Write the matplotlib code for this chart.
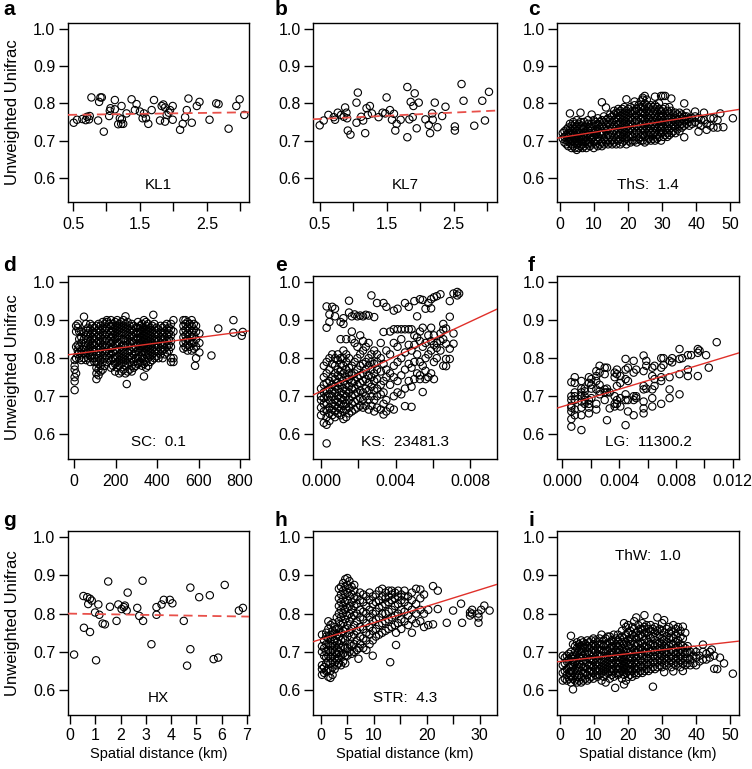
import numpy as np
import matplotlib
matplotlib.use("Agg")
import matplotlib.pyplot as plt

plt.rcParams['font.family'] = ['Liberation Sans', 'DejaVu Sans']

# ---- data ----
# a: KL1
kl1_x = [0.51, 0.56, 0.64, 0.69, 0.71, 0.74, 0.75, 0.775, 0.875, 0.89,
         0.91, 0.93, 0.96, 1.04, 1.05, 1.06, 1.125, 1.125, 1.175, 1.2,
         1.22, 1.225, 1.23, 1.25, 1.3, 1.375, 1.425, 1.45, 1.5, 1.54,
         1.56, 1.59, 1.625, 1.675, 1.71, 1.8, 1.825, 1.85, 1.875, 1.875,
         1.9, 1.93, 1.95, 1.99, 1.99, 2.1, 2.14, 2.175, 2.2, 2.225,
         2.275, 2.35, 2.39, 2.54, 2.64, 2.675, 2.825, 2.94, 2.99, 3.06]
kl1_y = [0.748, 0.756, 0.758, 0.755, 0.764, 0.757, 0.766, 0.816, 0.754, 0.804,
         0.816, 0.816, 0.724, 0.766, 0.78, 0.787, 0.809, 0.784, 0.744, 0.76,
         0.745, 0.793, 0.757, 0.745, 0.773, 0.811, 0.782, 0.798, 0.778, 0.76,
         0.773, 0.76, 0.745, 0.782, 0.809, 0.754, 0.793, 0.797, 0.789, 0.751,
         0.769, 0.775, 0.782, 0.793, 0.756, 0.729, 0.745, 0.763, 0.782, 0.813,
         0.748, 0.793, 0.804, 0.756, 0.8, 0.798, 0.732, 0.793, 0.811, 0.769]

# b: KL7
kl7_x = [0.5, 0.56, 0.63, 0.71, 0.73, 0.77, 0.82, 0.86, 0.88, 0.9,
         0.91, 0.92, 0.96, 1.05, 1.07, 1.05, 1.12, 1.15, 1.18, 1.2,
         1.22, 1.25, 1.28, 1.38, 1.44, 1.48, 1.5, 1.55, 1.58, 1.61,
         1.63, 1.65, 1.71, 1.81, 1.81, 1.84, 1.86, 1.89, 1.9, 1.92,
         1.95, 1.98, 2.08, 2.13, 2.15, 2.18, 2.19, 2.22, 2.26, 2.33,
         2.38, 2.52, 2.52, 2.62, 2.65, 2.81, 2.93, 2.97, 3.03]
kl7_y = [0.741, 0.754, 0.769, 0.763, 0.756, 0.775, 0.769, 0.764, 0.789, 0.775,
         0.76, 0.727, 0.716, 0.802, 0.829, 0.748, 0.764, 0.754, 0.72, 0.787,
         0.769, 0.793, 0.773, 0.763, 0.775, 0.773, 0.816, 0.782, 0.756, 0.772,
         0.727, 0.745, 0.756, 0.709, 0.844, 0.757, 0.804, 0.763, 0.793, 0.827,
         0.733, 0.802, 0.757, 0.742, 0.72, 0.773, 0.756, 0.802, 0.736, 0.766,
         0.791, 0.738, 0.727, 0.852, 0.807, 0.74, 0.807, 0.754, 0.831]

# c: ThS  (distance, [dissimilarities])
ths_cols = [
    (0.8, [0.705, 0.72]),
    (1.3, [0.695, 0.71, 0.725]),
    (1.9, [0.69, 0.70, 0.715, 0.73]),
    (2.4, [0.685, 0.70, 0.71, 0.72, 0.735]),
    (2.9, [0.695, 0.705, 0.72, 0.73, 0.745, 0.773]),
    (3.4, [0.68, 0.69, 0.70, 0.715, 0.725, 0.74]),
    (3.9, [0.685, 0.70, 0.71, 0.72, 0.735, 0.75]),
    (4.4, [0.68, 0.695, 0.705, 0.715, 0.73, 0.745]),
    (4.9, [0.675, 0.69, 0.70, 0.71, 0.725, 0.74, 0.755]),
    (5.5, [0.68, 0.695, 0.705, 0.72, 0.73, 0.745]),
    (6.0, [0.685, 0.70, 0.71, 0.72, 0.735, 0.75, 0.775]),
    (6.6, [0.68, 0.69, 0.705, 0.715, 0.73, 0.74]),
    (7.1, [0.685, 0.695, 0.71, 0.72, 0.735, 0.75]),
    (7.7, [0.68, 0.70, 0.71, 0.725, 0.74]),
    (8.2, [0.69, 0.70, 0.715, 0.73, 0.745, 0.755]),
    (8.8, [0.685, 0.695, 0.71, 0.72, 0.735]),
    (9.3, [0.69, 0.705, 0.715, 0.73, 0.745, 0.77]),
    (9.9, [0.68, 0.695, 0.71, 0.72, 0.74, 0.755]),
    (10.5, [0.69, 0.70, 0.715, 0.725, 0.74, 0.75]),
    (11.1, [0.685, 0.70, 0.71, 0.73, 0.745, 0.76]),
    (11.7, [0.69, 0.705, 0.72, 0.735, 0.75]),
    (12.3, [0.685, 0.695, 0.715, 0.725, 0.74, 0.755, 0.803]),
    (12.9, [0.69, 0.705, 0.72, 0.735, 0.75, 0.765]),
    (13.5, [0.695, 0.71, 0.725, 0.74, 0.755, 0.789]),
    (14.1, [0.69, 0.70, 0.715, 0.73, 0.745, 0.76]),
    (14.7, [0.695, 0.71, 0.725, 0.74, 0.755, 0.77]),
    (15.3, [0.69, 0.70, 0.72, 0.735, 0.75, 0.765]),
    (15.9, [0.695, 0.71, 0.725, 0.74, 0.755, 0.77, 0.78]),
    (16.5, [0.69, 0.705, 0.72, 0.735, 0.75, 0.76, 0.775]),
    (17.1, [0.70, 0.715, 0.73, 0.745, 0.76, 0.775, 0.785]),
    (17.7, [0.69, 0.705, 0.72, 0.735, 0.75, 0.765, 0.78]),
    (18.3, [0.695, 0.71, 0.725, 0.74, 0.755, 0.77, 0.785]),
    (18.9, [0.70, 0.715, 0.73, 0.745, 0.76, 0.775, 0.79]),
    (19.5, [0.69, 0.705, 0.72, 0.735, 0.75, 0.765, 0.78, 0.811]),
    (20.1, [0.70, 0.71, 0.725, 0.74, 0.755, 0.77, 0.785]),
    (20.7, [0.695, 0.715, 0.73, 0.745, 0.76, 0.775, 0.79]),
    (21.3, [0.70, 0.71, 0.725, 0.74, 0.755, 0.77, 0.78]),
    (21.9, [0.70, 0.72, 0.735, 0.75, 0.765, 0.78, 0.795, 0.805]),
    (22.5, [0.695, 0.71, 0.725, 0.74, 0.755, 0.77, 0.785]),
    (23.1, [0.705, 0.72, 0.735, 0.75, 0.765, 0.78, 0.795]),
    (23.7, [0.70, 0.71, 0.725, 0.74, 0.76, 0.775, 0.79, 0.805]),
    (24.3, [0.70, 0.715, 0.73, 0.745, 0.76, 0.775, 0.79, 0.81, 0.815]),
    (24.9, [0.695, 0.71, 0.725, 0.74, 0.755, 0.77, 0.785, 0.80, 0.82]),
    (25.5, [0.70, 0.72, 0.735, 0.75, 0.765, 0.78, 0.795, 0.81]),
    (26.1, [0.705, 0.715, 0.73, 0.745, 0.76, 0.775, 0.79]),
    (26.7, [0.70, 0.72, 0.735, 0.75, 0.765, 0.78, 0.795]),
    (27.3, [0.705, 0.715, 0.73, 0.745, 0.76, 0.775, 0.79]),
    (27.9, [0.70, 0.72, 0.735, 0.75, 0.765, 0.78, 0.795, 0.818]),
    (28.5, [0.705, 0.715, 0.73, 0.745, 0.76, 0.775, 0.79]),
    (29.1, [0.71, 0.725, 0.74, 0.755, 0.77, 0.785, 0.80]),
    (29.7, [0.70, 0.72, 0.735, 0.75, 0.765, 0.78, 0.82]),
    (30.3, [0.71, 0.725, 0.74, 0.755, 0.77, 0.785, 0.82]),
    (30.9, [0.715, 0.73, 0.745, 0.76, 0.775, 0.79, 0.82]),
    (31.5, [0.71, 0.72, 0.735, 0.75, 0.765, 0.78]),
    (32.1, [0.715, 0.73, 0.745, 0.76, 0.775, 0.79]),
    (32.7, [0.72, 0.735, 0.75, 0.765, 0.78, 0.813]),
    (33.3, [0.725, 0.74, 0.755, 0.77]),
    (33.9, [0.72, 0.735, 0.75, 0.76, 0.775]),
    (34.5, [0.73, 0.745, 0.755, 0.77]),
    (35.1, [0.725, 0.74, 0.75, 0.765, 0.775]),
    (35.8, [0.735, 0.745, 0.76, 0.77]),
    (36.5, [0.709, 0.74, 0.755, 0.765, 0.80]),
    (37.2, [0.745, 0.755, 0.765, 0.775]),
    (38.0, [0.74, 0.75, 0.76]),
    (38.8, [0.745, 0.76]),
    (39.7, [0.75, 0.765, 0.778]),
    (40.7, [0.724, 0.745, 0.76]),
    (41.5, [0.74, 0.755]),
    (42.3, [0.755, 0.775]),
    (43.1, [0.729, 0.745]),
    (44.2, [0.74, 0.76]),
    (45.1, [0.76, 0.735]),
    (46.3, [0.755, 0.735]),
    (47.1, [0.773]),
    (48.0, [0.736]),
    (50.8, [0.76]),
]

# d: SC
sc_cols = [
    (3, [0.716, 0.739, 0.75, 0.77, 0.78, 0.795]),
    (10, [0.76, 0.80, 0.83, 0.87, 0.885]),
    (18, [0.81, 0.82, 0.835, 0.88, 0.89]),
    (25, [0.80, 0.815, 0.83, 0.85, 0.87]),
    (35, [0.795, 0.81, 0.82, 0.84, 0.855, 0.87]),
    (48, [0.80, 0.815, 0.83, 0.85, 0.865, 0.909]),
    (58, [0.795, 0.81, 0.825, 0.84, 0.86, 0.875, 0.89]),
    (68, [0.80, 0.82, 0.835, 0.85, 0.865, 0.88]),
    (78, [0.79, 0.805, 0.815, 0.83, 0.845, 0.86, 0.875, 0.89]),
    (88, [0.80, 0.81, 0.825, 0.84, 0.855, 0.87, 0.885]),
    (98, [0.79, 0.80, 0.82, 0.835, 0.85, 0.865, 0.88]),
    (108, [0.745, 0.76, 0.775, 0.79, 0.81, 0.825, 0.84, 0.855, 0.87, 0.885]),
    (118, [0.755, 0.77, 0.785, 0.80, 0.815, 0.83, 0.845, 0.86, 0.875, 0.89]),
    (128, [0.765, 0.78, 0.795, 0.81, 0.825, 0.84, 0.855, 0.87, 0.885]),
    (138, [0.77, 0.79, 0.805, 0.82, 0.835, 0.85, 0.865, 0.88, 0.895]),
    (148, [0.78, 0.80, 0.815, 0.83, 0.845, 0.86, 0.875, 0.89]),
    (158, [0.79, 0.805, 0.82, 0.835, 0.85, 0.865, 0.88, 0.895, 0.90]),
    (168, [0.80, 0.815, 0.83, 0.845, 0.86, 0.875, 0.89]),
    (178, [0.775, 0.795, 0.81, 0.825, 0.84, 0.855, 0.87, 0.885, 0.90]),
    (188, [0.78, 0.80, 0.815, 0.83, 0.845, 0.86, 0.875, 0.89]),
    (198, [0.765, 0.785, 0.80, 0.82, 0.835, 0.85, 0.865, 0.88, 0.895]),
    (208, [0.775, 0.79, 0.805, 0.82, 0.84, 0.855, 0.87, 0.885, 0.90]),
    (218, [0.76, 0.78, 0.795, 0.81, 0.825, 0.84, 0.86, 0.875, 0.89]),
    (228, [0.765, 0.785, 0.80, 0.815, 0.83, 0.85, 0.865, 0.88, 0.895]),
    (238, [0.77, 0.79, 0.805, 0.82, 0.835, 0.85, 0.87, 0.885, 0.90]),
    (248, [0.76, 0.78, 0.795, 0.81, 0.83, 0.845, 0.86, 0.875, 0.89, 0.91]),
    (254, [0.732]),
    (258, [0.765, 0.785, 0.80, 0.815, 0.835, 0.85, 0.865, 0.88, 0.895]),
    (268, [0.77, 0.79, 0.805, 0.82, 0.84, 0.855, 0.87, 0.885]),
    (278, [0.765, 0.78, 0.80, 0.815, 0.83, 0.845, 0.86, 0.875, 0.89]),
    (288, [0.775, 0.79, 0.81, 0.825, 0.84, 0.855, 0.87, 0.885]),
    (298, [0.78, 0.80, 0.815, 0.83, 0.85, 0.865, 0.88]),
    (308, [0.785, 0.80, 0.82, 0.835, 0.85, 0.865, 0.88, 0.895]),
    (318, [0.79, 0.805, 0.825, 0.84, 0.855, 0.87, 0.885]),
    (328, [0.78, 0.80, 0.815, 0.83, 0.845, 0.86, 0.875, 0.89]),
    (337, [0.752, 0.785, 0.80, 0.82, 0.835, 0.85, 0.865, 0.88, 0.90]),
    (347, [0.775, 0.79, 0.81, 0.825, 0.84, 0.855, 0.87, 0.885, 0.895]),
    (357, [0.78, 0.80, 0.815, 0.83, 0.845, 0.86, 0.875, 0.89]),
    (367, [0.79, 0.805, 0.82, 0.835, 0.85, 0.865, 0.88]),
    (377, [0.795, 0.81, 0.825, 0.84, 0.855, 0.87, 0.885]),
    (382, [0.914]),
    (387, [0.80, 0.815, 0.83, 0.845, 0.86, 0.875, 0.89]),
    (397, [0.805, 0.82, 0.835, 0.85, 0.865, 0.88]),
    (407, [0.80, 0.815, 0.83, 0.845, 0.86, 0.875]),
    (417, [0.81, 0.825, 0.84, 0.855, 0.87, 0.885]),
    (427, [0.80, 0.82, 0.835, 0.85, 0.865, 0.88]),
    (437, [0.81, 0.825, 0.84, 0.855, 0.87, 0.885]),
    (447, [0.815, 0.83, 0.845, 0.86, 0.875, 0.89]),
    (457, [0.82, 0.835, 0.85, 0.865, 0.88]),
    (467, [0.79, 0.80, 0.83, 0.845, 0.86, 0.875, 0.89]),
    (479, [0.79, 0.80, 0.87, 0.90]),
    (527, [0.825, 0.84, 0.855, 0.87, 0.885, 0.90]),
    (537, [0.83, 0.845, 0.86, 0.875, 0.89, 0.90]),
    (547, [0.82, 0.835, 0.85, 0.865, 0.88, 0.895]),
    (557, [0.83, 0.845, 0.86, 0.875, 0.89]),
    (567, [0.82, 0.84, 0.855, 0.87, 0.885, 0.90]),
    (577, [0.825, 0.84, 0.86, 0.875, 0.89]),
    (583, [0.78]),
    (588, [0.80, 0.83, 0.85, 0.87, 0.885]),
    (604, [0.815, 0.84, 0.865]),
    (662, [0.807]),
    (695, [0.878]),
    (768, [0.867, 0.90]),
    (808, [0.859]),
    (813, [0.869]),
]

# e: KS
ks_cols = [
    (0.00000, [0.65, 0.67, 0.69, 0.70, 0.72]),
    (0.00015, [0.63, 0.66, 0.68, 0.695, 0.71, 0.73, 0.75, 0.78]),
    (0.00030, [0.576, 0.625, 0.645, 0.665, 0.68, 0.70, 0.715, 0.735, 0.76, 0.79, 0.88, 0.936]),
    (0.00045, [0.635, 0.655, 0.67, 0.69, 0.705, 0.72, 0.74, 0.77, 0.80, 0.895, 0.915]),
    (0.00060, [0.65, 0.665, 0.68, 0.70, 0.715, 0.73, 0.75, 0.785, 0.81, 0.935]),
    (0.00075, [0.645, 0.66, 0.675, 0.69, 0.71, 0.725, 0.745, 0.76, 0.78, 0.80, 0.91, 0.93]),
    (0.00090, [0.655, 0.67, 0.685, 0.70, 0.72, 0.735, 0.755, 0.77, 0.795, 0.81]),
    (0.00105, [0.65, 0.665, 0.68, 0.695, 0.71, 0.73, 0.75, 0.765, 0.785, 0.80, 0.85, 0.895]),
    (0.00120, [0.64, 0.66, 0.675, 0.69, 0.705, 0.72, 0.74, 0.76, 0.78, 0.80, 0.82, 0.89, 0.905]),
    (0.00135, [0.645, 0.665, 0.68, 0.70, 0.715, 0.73, 0.75, 0.77, 0.79, 0.81, 0.85]),
    (0.00150, [0.655, 0.67, 0.69, 0.71, 0.725, 0.745, 0.76, 0.775, 0.80, 0.92, 0.951]),
    (0.00165, [0.66, 0.68, 0.70, 0.72, 0.735, 0.755, 0.78, 0.85, 0.87, 0.91]),
    (0.00180, [0.665, 0.685, 0.705, 0.72, 0.74, 0.76, 0.79, 0.84, 0.915]),
    (0.00195, [0.67, 0.69, 0.71, 0.73, 0.75, 0.77, 0.80, 0.83, 0.91]),
    (0.00210, [0.675, 0.695, 0.715, 0.735, 0.755, 0.78, 0.81, 0.86, 0.912]),
    (0.00225, [0.67, 0.69, 0.71, 0.74, 0.76, 0.785, 0.82, 0.845, 0.91]),
    (0.00240, [0.675, 0.70, 0.72, 0.745, 0.77, 0.79, 0.83, 0.914]),
    (0.00255, [0.665, 0.69, 0.715, 0.735, 0.755, 0.78, 0.80, 0.84, 0.912]),
    (0.00270, [0.675, 0.70, 0.725, 0.75, 0.77, 0.79, 0.81, 0.965]),
    (0.00285, [0.66, 0.69, 0.715, 0.74, 0.76, 0.785, 0.82, 0.908]),
    (0.00300, [0.67, 0.70, 0.72, 0.745, 0.77, 0.79, 0.81, 0.945]),
    (0.00320, [0.665, 0.705, 0.73, 0.765, 0.80, 0.84]),
    (0.00335, [0.652, 0.68, 0.71, 0.74, 0.785, 0.869, 0.945]),
    (0.00350, [0.66, 0.69, 0.75, 0.77, 0.82, 0.935]),
    (0.00370, [0.67, 0.73, 0.76, 0.81, 0.87]),
    (0.00390, [0.665, 0.70, 0.75, 0.78, 0.84, 0.876, 0.925]),
    (0.00410, [0.71, 0.74, 0.79, 0.83, 0.876, 0.93]),
    (0.00430, [0.705, 0.755, 0.80, 0.85, 0.876]),
    (0.00450, [0.674, 0.72, 0.77, 0.815, 0.876, 0.945]),
    (0.00470, [0.74, 0.785, 0.835, 0.876, 0.935]),
    (0.00485, [0.672, 0.725, 0.775, 0.82, 0.876]),
    (0.00500, [0.745, 0.79, 0.835, 0.86, 0.95]),
    (0.00515, [0.76, 0.81, 0.855, 0.91]),
    (0.00530, [0.745, 0.755, 0.79, 0.845, 0.87, 0.955]),
    (0.00545, [0.711, 0.78, 0.83, 0.88, 0.953]),
    (0.00560, [0.745, 0.767, 0.80, 0.84, 0.93]),
    (0.00575, [0.75, 0.81, 0.86, 0.945]),
    (0.00590, [0.76, 0.82, 0.845, 0.88, 0.931, 0.955]),
    (0.00605, [0.745, 0.79, 0.835, 0.86, 0.96]),
    (0.00620, [0.80, 0.827, 0.84, 0.963]),
    (0.00640, [0.82, 0.845, 0.865, 0.968]),
    (0.00655, [0.78, 0.85, 0.875, 0.89]),
    (0.00670, [0.779, 0.798, 0.838, 0.878]),
    (0.00690, [0.798, 0.825, 0.909, 0.95]),
    (0.00710, [0.838, 0.865, 0.97]),
    (0.00730, [0.974, 0.965]),
    (0.00740, [0.97]),
]

# f: LG
lg_cols = [
    (0.00063, [0.64, 0.62, 0.67, 0.69, 0.70, 0.737, 0.675, 0.66]),
    (0.00087, [0.75, 0.735, 0.71, 0.69, 0.70, 0.665, 0.65]),
    (0.00134, [0.74, 0.72, 0.71, 0.70, 0.686, 0.67, 0.65, 0.611]),
    (0.00157, [0.72, 0.713, 0.70, 0.69, 0.68]),
    (0.00187, [0.75, 0.735, 0.69, 0.68, 0.67, 0.655]),
    (0.00204, [0.745, 0.73, 0.72, 0.695]),
    (0.00239, [0.766, 0.753, 0.74, 0.718, 0.68, 0.665]),
    (0.00262, [0.78, 0.762, 0.73, 0.713, 0.705]),
    (0.00298, [0.775, 0.758, 0.718, 0.71, 0.69]),
    (0.00314, [0.775, 0.72, 0.71, 0.637]),
    (0.00333, [0.668, 0.71]),
    (0.00368, [0.762, 0.75, 0.70, 0.68, 0.673]),
    (0.00384, [0.77, 0.758, 0.727, 0.69, 0.68]),
    (0.00408, [0.753, 0.735, 0.695, 0.673]),
    (0.00445, [0.798, 0.77, 0.745, 0.705, 0.69, 0.624]),
    (0.00462, [0.775, 0.74, 0.69, 0.66]),
    (0.00502, [0.793, 0.762, 0.70, 0.69, 0.65]),
    (0.00520, [0.77, 0.695, 0.70]),
    (0.00572, [0.807, 0.766, 0.727, 0.718, 0.686, 0.668, 0.655]),
    (0.00591, [0.793, 0.78, 0.72]),
    (0.00633, [0.775, 0.753, 0.718, 0.695, 0.673]),
    (0.00649, [0.78, 0.745, 0.727]),
    (0.00696, [0.80, 0.775, 0.75, 0.74, 0.68]),
    (0.00712, [0.80, 0.782]),
    (0.00755, [0.793, 0.75, 0.718, 0.695]),
    (0.00773, [0.80, 0.789]),
    (0.00825, [0.824, 0.798, 0.758, 0.705]),
    (0.00844, [0.80]),
    (0.00884, [0.808, 0.77, 0.753]),
    (0.00907, [0.808]),
    (0.00954, [0.824, 0.814, 0.753]),
    (0.00966, [0.82]),
    (0.01012, [0.808]),
    (0.01031, [0.775]),
    (0.01087, [0.842]),
]

# g: HX
hx_x = [0.16, 0.53, 0.55, 0.68, 0.72, 0.79, 0.79, 0.86, 0.99, 1.03,
        1.12, 1.16, 1.29, 1.38, 1.51, 1.58, 1.84, 1.91, 2.04, 2.13,
        2.17, 2.24, 2.28, 2.66, 2.74, 2.87, 2.89, 3.22, 3.42, 3.42,
        3.62, 3.71, 3.95, 4.05, 4.5, 4.63, 4.76, 4.76, 5.11, 5.53,
        5.68, 5.86, 6.12, 6.68, 6.84]
hx_y = [0.693, 0.846, 0.763, 0.843, 0.825, 0.839, 0.752, 0.834, 0.803, 0.678,
        0.824, 0.797, 0.774, 0.772, 0.884, 0.818, 0.781, 0.824, 0.812, 0.817,
        0.821, 0.808, 0.855, 0.815, 0.794, 0.886, 0.781, 0.72, 0.817, 0.797,
        0.824, 0.836, 0.836, 0.827, 0.781, 0.664, 0.868, 0.707, 0.843, 0.848,
        0.681, 0.685, 0.875, 0.808, 0.815]

# h: STR
str_cols = [
    (0.2, [0.64, 0.655, 0.665, 0.70, 0.715, 0.745]),
    (0.6, [0.645, 0.66, 0.69, 0.71, 0.73]),
    (1.0, [0.65, 0.67, 0.685, 0.70, 0.72, 0.74, 0.75]),
    (1.4, [0.635, 0.655, 0.675, 0.69, 0.705, 0.72, 0.735, 0.76, 0.78]),
    (1.8, [0.632, 0.65, 0.67, 0.685, 0.70, 0.715, 0.73, 0.745, 0.77]),
    (2.2, [0.64, 0.66, 0.675, 0.69, 0.705, 0.72, 0.74, 0.755, 0.775]),
    (2.6, [0.655, 0.67, 0.685, 0.70, 0.715, 0.73, 0.75, 0.765]),
    (3.0, [0.665, 0.68, 0.695, 0.71, 0.725, 0.745, 0.76, 0.79]),
    (3.4, [0.67, 0.685, 0.70, 0.72, 0.74, 0.76, 0.78, 0.80, 0.82, 0.84, 0.865]),
    (3.8, [0.665, 0.69, 0.71, 0.73, 0.75, 0.77, 0.79, 0.81, 0.83, 0.85, 0.87]),
    (4.2, [0.675, 0.695, 0.715, 0.735, 0.755, 0.775, 0.80, 0.82, 0.84, 0.86, 0.88]),
    (4.6, [0.67, 0.69, 0.71, 0.73, 0.76, 0.785, 0.81, 0.83, 0.85, 0.87, 0.89]),
    (5.0, [0.69, 0.71, 0.74, 0.77, 0.795, 0.815, 0.835, 0.855, 0.875, 0.893]),
    (5.4, [0.70, 0.72, 0.75, 0.78, 0.80, 0.82, 0.845, 0.865, 0.885]),
    (5.8, [0.695, 0.715, 0.74, 0.76, 0.79, 0.81, 0.83, 0.85, 0.87]),
    (6.3, [0.70, 0.72, 0.745, 0.77, 0.795, 0.82, 0.84, 0.86, 0.875]),
    (6.8, [0.705, 0.73, 0.755, 0.78, 0.80, 0.825, 0.845]),
    (7.1, [0.682, 0.71]),
    (7.4, [0.72, 0.74, 0.765, 0.79, 0.81, 0.835, 0.855]),
    (8.0, [0.71, 0.735, 0.76, 0.785, 0.805, 0.83, 0.85]),
    (8.6, [0.705, 0.73, 0.75, 0.775, 0.80, 0.82, 0.845]),
    (9.2, [0.72, 0.745, 0.765, 0.79, 0.81, 0.835, 0.855]),
    (9.8, [0.69, 0.73, 0.755, 0.78, 0.80, 0.825, 0.845]),
    (10.4, [0.74, 0.76, 0.785, 0.805, 0.83, 0.85]),
    (11.0, [0.745, 0.77, 0.79, 0.815, 0.835, 0.86]),
    (11.6, [0.75, 0.775, 0.80, 0.82, 0.845, 0.865]),
    (12.2, [0.755, 0.78, 0.80, 0.825, 0.84, 0.855]),
    (12.8, [0.76, 0.785, 0.805, 0.83, 0.845, 0.86]),
    (13.1, [0.673]),
    (13.4, [0.765, 0.79, 0.81, 0.835, 0.85, 0.86]),
    (14.0, [0.77, 0.795, 0.82, 0.84, 0.855]),
    (14.2, [0.718, 0.75]),
    (14.6, [0.775, 0.80, 0.825, 0.845, 0.86]),
    (15.2, [0.76, 0.785, 0.81, 0.835, 0.85]),
    (15.8, [0.78, 0.805, 0.83, 0.845, 0.86]),
    (16.5, [0.77, 0.795, 0.82, 0.845]),
    (17.2, [0.75, 0.785, 0.81, 0.835, 0.855]),
    (18.0, [0.775, 0.80, 0.825, 0.865]),
    (18.8, [0.78, 0.81, 0.84, 0.863]),
    (19.5, [0.765, 0.80, 0.85]),
    (20.3, [0.77, 0.81]),
    (21.2, [0.772, 0.872]),
    (22.1, [0.86, 0.812]),
    (23.8, [0.776]),
    (25.0, [0.808]),
    (26.5, [0.826]),
    (26.7, [0.776]),
    (28.2, [0.803, 0.795]),
    (28.6, [0.81, 0.80]),
    (29.8, [0.776, 0.79, 0.80]),
    (30.3, [0.81]),
    (30.9, [0.821]),
    (31.9, [0.808]),
]

# i: ThW
thw_cols = [
    (0.8, [0.625, 0.645, 0.665, 0.69]),
    (1.4, [0.63, 0.65, 0.67, 0.685]),
    (2.0, [0.625, 0.64, 0.655, 0.675, 0.69]),
    (2.6, [0.63, 0.645, 0.66, 0.68, 0.695]),
    (3.2, [0.62, 0.635, 0.65, 0.665, 0.685, 0.70, 0.742]),
    (3.8, [0.602, 0.63, 0.645, 0.66, 0.675, 0.69, 0.72]),
    (4.4, [0.625, 0.64, 0.655, 0.67, 0.685, 0.70, 0.715]),
    (5.0, [0.62, 0.635, 0.65, 0.665, 0.68, 0.695, 0.71, 0.725]),
    (5.6, [0.625, 0.64, 0.66, 0.675, 0.69, 0.705, 0.72]),
    (6.2, [0.62, 0.635, 0.65, 0.665, 0.685, 0.70, 0.715, 0.73]),
    (6.8, [0.625, 0.645, 0.66, 0.675, 0.69, 0.71, 0.725]),
    (7.4, [0.63, 0.645, 0.66, 0.68, 0.695, 0.71, 0.72]),
    (8.0, [0.625, 0.64, 0.655, 0.67, 0.685, 0.70, 0.715, 0.73]),
    (8.6, [0.63, 0.65, 0.665, 0.68, 0.695, 0.71, 0.725]),
    (9.2, [0.635, 0.65, 0.665, 0.68, 0.70, 0.715, 0.73]),
    (9.8, [0.63, 0.645, 0.66, 0.675, 0.69, 0.705, 0.72, 0.735]),
    (10.4, [0.64, 0.655, 0.67, 0.685, 0.70, 0.715, 0.73]),
    (11.0, [0.635, 0.65, 0.665, 0.68, 0.695, 0.71, 0.725]),
    (11.6, [0.64, 0.655, 0.67, 0.69, 0.705, 0.72, 0.735]),
    (12.2, [0.625, 0.645, 0.66, 0.675, 0.69, 0.705, 0.72, 0.745]),
    (12.8, [0.635, 0.65, 0.665, 0.68, 0.70, 0.715, 0.73]),
    (13.4, [0.62, 0.64, 0.655, 0.67, 0.685, 0.70, 0.72, 0.735]),
    (14.0, [0.645, 0.66, 0.675, 0.69, 0.705, 0.72, 0.74]),
    (14.6, [0.63, 0.65, 0.665, 0.68, 0.695, 0.71, 0.725, 0.74]),
    (15.2, [0.64, 0.655, 0.67, 0.685, 0.70, 0.715, 0.73]),
    (15.8, [0.635, 0.65, 0.665, 0.68, 0.695, 0.71, 0.725, 0.745]),
    (16.2, [0.606]),
    (16.4, [0.645, 0.66, 0.675, 0.69, 0.705, 0.72, 0.735]),
    (17.0, [0.64, 0.655, 0.67, 0.685, 0.70, 0.715, 0.73, 0.745]),
    (17.6, [0.645, 0.66, 0.675, 0.69, 0.705, 0.72, 0.735]),
    (18.2, [0.63, 0.65, 0.665, 0.68, 0.695, 0.71, 0.725, 0.74, 0.755]),
    (18.8, [0.615, 0.64, 0.655, 0.67, 0.685, 0.70, 0.72, 0.735, 0.775]),
    (19.4, [0.625, 0.645, 0.66, 0.675, 0.69, 0.705, 0.725, 0.745, 0.765]),
    (20.0, [0.635, 0.65, 0.665, 0.68, 0.70, 0.715, 0.73, 0.75, 0.77]),
    (20.6, [0.64, 0.655, 0.67, 0.685, 0.70, 0.72, 0.735, 0.755]),
    (21.2, [0.635, 0.65, 0.665, 0.68, 0.695, 0.71, 0.73, 0.745, 0.765]),
    (21.8, [0.645, 0.66, 0.675, 0.69, 0.705, 0.72, 0.74, 0.76, 0.78]),
    (22.4, [0.64, 0.655, 0.67, 0.685, 0.70, 0.715, 0.735, 0.75, 0.79]),
    (23.0, [0.645, 0.66, 0.675, 0.69, 0.705, 0.72, 0.74, 0.755, 0.77]),
    (23.6, [0.65, 0.665, 0.68, 0.695, 0.71, 0.725, 0.745, 0.76]),
    (24.2, [0.645, 0.66, 0.675, 0.69, 0.705, 0.72, 0.74, 0.76, 0.775]),
    (24.8, [0.65, 0.665, 0.68, 0.70, 0.715, 0.73, 0.75, 0.765, 0.796]),
    (25.4, [0.655, 0.67, 0.685, 0.70, 0.715, 0.735, 0.75, 0.77]),
    (26.0, [0.65, 0.665, 0.68, 0.695, 0.71, 0.725, 0.745, 0.76]),
    (26.6, [0.655, 0.67, 0.685, 0.70, 0.72, 0.735, 0.755, 0.77]),
    (27.3, [0.609, 0.66, 0.675, 0.69, 0.705, 0.72, 0.74, 0.76]),
    (27.9, [0.655, 0.67, 0.685, 0.70, 0.715, 0.73, 0.75, 0.765]),
    (28.6, [0.66, 0.675, 0.69, 0.705, 0.72, 0.74, 0.755, 0.79]),
    (29.3, [0.665, 0.68, 0.695, 0.71, 0.725, 0.745, 0.76]),
    (30.0, [0.66, 0.675, 0.69, 0.705, 0.72, 0.735, 0.755, 0.775]),
    (30.6, [0.647, 0.67, 0.685, 0.70, 0.715, 0.73, 0.75, 0.783]),
    (31.3, [0.665, 0.68, 0.695, 0.71, 0.725, 0.74, 0.76]),
    (32.0, [0.67, 0.685, 0.70, 0.715, 0.735, 0.75, 0.765]),
    (32.7, [0.66, 0.675, 0.69, 0.705, 0.72, 0.74, 0.755]),
    (33.3, [0.649, 0.67, 0.685, 0.70, 0.72, 0.735, 0.77]),
    (34.0, [0.665, 0.68, 0.695, 0.71, 0.725, 0.745, 0.76]),
    (34.7, [0.67, 0.685, 0.70, 0.715, 0.73, 0.75, 0.765]),
    (35.4, [0.66, 0.675, 0.69, 0.705, 0.72, 0.74, 0.755]),
    (36.1, [0.65, 0.67, 0.685, 0.70, 0.715, 0.735, 0.766]),
    (36.8, [0.665, 0.68, 0.695, 0.71, 0.75]),
    (37.5, [0.67, 0.685, 0.70, 0.715]),
    (38.3, [0.665, 0.68, 0.70]),
    (39.2, [0.67, 0.69, 0.705]),
    (40.0, [0.665, 0.685, 0.70]),
    (41.0, [0.675, 0.69]),
    (42.0, [0.68, 0.70, 0.719]),
    (43.0, [0.68, 0.695]),
    (44.0, [0.685, 0.70]),
    (44.6, [0.706]),
    (45.3, [0.656, 0.69]),
    (46.2, [0.655]),
    (47.0, [0.685]),
    (48.2, [0.67]),
    (50.8, [0.643]),
]

# fitted lines (intercept, slope); dashed = not significant
fits = {
    'a': (0.768, 0.0026), 'b': (0.754, 0.0085), 'c': (0.708, 0.00144),
    'd': (0.811, 7.2e-5), 'e': (0.713, 22.9), 'f': (0.673, 11.33),
    'g': (0.800, -0.0011), 'h': (0.733, 0.00431), 'i': (0.675, 0.00101),
}
dashed = {'a', 'b', 'g'}

site_labels = {
    'a': 'KL1', 'b': 'KL7', 'c': 'ThS:  1.4', 'd': 'SC:  0.1',
    'e': 'KS:  23481.3', 'f': 'LG:  11300.2', 'g': 'HX',
    'h': 'STR:  4.3', 'i': 'ThW:  1.0',
}


def flatten(cols):
    xs, ys = [], []
    for x, yy in cols:
        xs += [x] * len(yy)
        ys += yy
    return xs, ys


ths_x, ths_y = flatten(ths_cols)
sc_x, sc_y = flatten(sc_cols)
ks_x, ks_y = flatten(ks_cols)
lg_x, lg_y = flatten(lg_cols)
str_x, str_y = flatten(str_cols)
thw_x, thw_y = flatten(thw_cols)

# letter, x, y, xlim, xticks, xticklabels
panels = [
    ('a', kl1_x, kl1_y, (0.425, 3.13), [0.5, 1, 1.5, 2, 2.5, 3],
     ['0.5', '', '1.5', '', '2.5', '']),
    ('b', kl7_x, kl7_y, (0.40, 3.15), [0.5, 1, 1.5, 2, 2.5, 3],
     ['0.5', '', '1.5', '', '2.5', '']),
    ('c', ths_x, ths_y, (-0.9, 52.6), [0, 10, 20, 30, 40, 50],
     ['0', '10', '20', '30', '40', '50']),
    ('d', sc_x, sc_y, (-29, 843), [0, 200, 400, 600, 800],
     ['0', '200', '400', '600', '800']),
    ('e', ks_x, ks_y, (-0.00043, 0.00943), [0, 0.002, 0.004, 0.006, 0.008],
     ['0.000', '', '0.004', '', '0.008']),
    ('f', lg_x, lg_y, (-0.00038, 0.01244),
     [0, 0.002, 0.004, 0.006, 0.008, 0.010, 0.012],
     ['0.000', '', '0.004', '', '0.008', '', '0.012']),
    ('g', hx_x, hx_y, (-0.08, 7.08), [0, 1, 2, 3, 4, 5, 6, 7],
     ['0', '1', '2', '3', '4', '5', '6', '7']),
    ('h', str_x, str_y, (-1.5, 33.3), [0, 5, 10, 15, 20, 25, 30],
     ['0', '5', '10', '', '20', '', '30']),
    ('i', thw_x, thw_y, (-0.9, 52.6), [0, 10, 20, 30, 40, 50],
     ['0', '10', '20', '30', '40', '50']),
]

W, H = 752, 769
fig = plt.figure(figsize=(W / 100, H / 100), dpi=100)

col_left = [68, 313, 557]
col_width = [181, 184, 182]
row_top = [23, 276, 531]
row_bottom = [202, 459, 715]
letter_x = [3, 275, 528]
letter_base = [15, 271, 526]

for k, (letter, xs, ys, xlim, xt, xtl) in enumerate(panels):
    r, c = divmod(k, 3)
    ax = fig.add_axes([col_left[c] / W, 1 - row_bottom[r] / H,
                       col_width[c] / W, (row_bottom[r] - row_top[r]) / H])
    ax.scatter(xs, ys, s=28, facecolors='none', edgecolors='black',
               linewidths=0.8, zorder=2)
    b0, b1 = fits[letter]
    lx = np.array(xlim)
    if letter in dashed:
        ax.plot(lx, b0 + b1 * lx, color='#e8504a', lw=1.3,
                ls=(0, (5, 3)), zorder=3)
    else:
        ax.plot(lx, b0 + b1 * lx, color='#e0302a', lw=1.0, zorder=3)
    ax.set_xlim(xlim)
    ax.set_ylim(0.535, 1.016)
    ax.set_xticks(xt)
    ax.set_xticklabels(xtl)
    ax.set_yticks([0.6, 0.7, 0.8, 0.9, 1.0])
    ax.set_yticklabels(['0.6', '0.7', '0.8', '0.9', '1.0'])
    ax.tick_params(direction='out', length=6.5, width=1.0, labelsize=11.5,
                   colors='black')
    ax.tick_params(axis='x', pad=3 if r == 2 else 4)
    ax.tick_params(axis='y', pad=2.5)
    for sp in ax.spines.values():
        sp.set_linewidth(1.0)
    ty = 0.95 if letter == 'i' else 0.58
    ax.text(np.mean(xlim), ty, site_labels[letter], ha='center', va='center',
            fontsize=11)
    fig.text(letter_x[c] / W, 1 - letter_base[r] / H, letter, fontsize=15,
             fontweight='bold', va='baseline', ha='left')
    if c == 0:
        fig.text(13 / W, 1 - (row_top[r] + row_bottom[r]) / 2 / H,
                 'Unweighted Unifrac', rotation=90, ha='center', va='center',
                 fontsize=12)
    if r == 2:
        fig.text((col_left[c] + col_width[c] / 2) / W, 1 - 754 / H,
                 'Spatial distance (km)', ha='center', va='center',
                 fontsize=10.5)

fig.savefig('out.png', dpi=100)
